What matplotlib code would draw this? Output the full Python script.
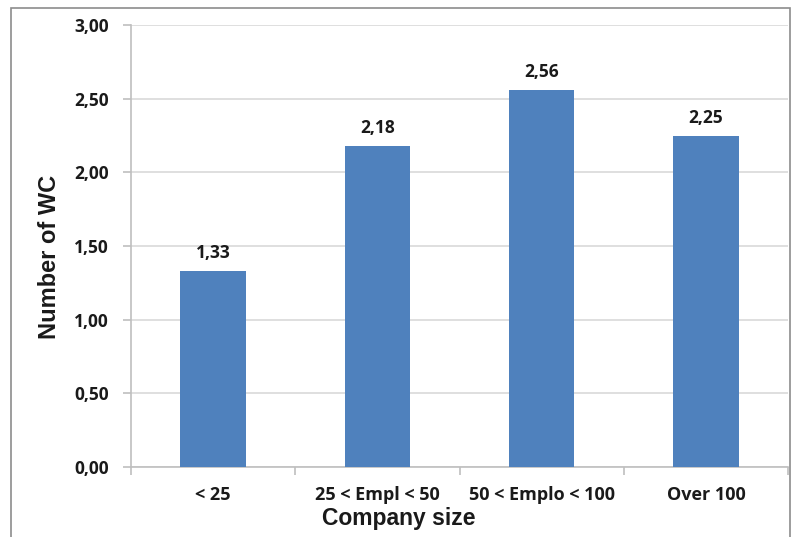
import matplotlib
matplotlib.use("Agg")
import matplotlib.pyplot as plt
from matplotlib.patches import Rectangle

categories = ["< 25", "25 < Empl < 50", "50 < Emplo < 100", "Over 100"]
values = [1.33, 2.18, 2.56, 2.25]
yticks = [0.0, 0.5, 1.0, 1.5, 2.0, 2.5, 3.0]

plt.rcParams['font.family'] = ['Open Sans', 'DejaVu Sans']
label_font = ['Liberation Sans', 'DejaVu Sans']
ink = "#1a1a1a"

W, H = 792, 537
fig = plt.figure(figsize=(W / 100, H / 100), dpi=100)

# outer chart frame
fig.patches.append(Rectangle((11 / W, -0.05), (790 - 11) / W, 1 - 8 / H + 0.05,
                             transform=fig.transFigure, fill=False,
                             edgecolor="#8c8c8c", linewidth=1.2))

left, right, top, bottom = 131, 788, 25, 467
ax = fig.add_axes([left / W, 1 - bottom / H, (right - left) / W, (bottom - top) / H])

x = list(range(len(categories)))
bars = ax.bar(x, values, width=0.4, color="#4f81bd", zorder=3)
for xi, v in zip(x, values):
    ax.text(xi, v + 0.06, f"{v:.2f}".replace(".", ","), ha="center", va="bottom",
            fontsize=12.5, fontweight="bold", color=ink)

ax.set_xlim(-0.5, len(categories) - 0.5)
ax.set_ylim(0, 3.0)
ax.set_yticks(yticks)
ax.set_yticklabels([f"{t:.2f}".replace(".", ",") for t in yticks],
                   fontsize=12.5, fontweight="bold", color=ink)
ax.yaxis.grid(True, color="#d9d9d9", linewidth=1.2, zorder=0)
ax.tick_params(axis="y", length=6, color="#bfbfbf", width=1.2, pad=10)

ax.set_xticks(x)
ax.set_xticklabels(categories, fontsize=13, fontweight="bold", color=ink)
ax.set_xticks([i - 0.5 for i in range(len(categories) + 1)], minor=True)
ax.tick_params(axis="x", which="major", length=0, pad=14)
ax.tick_params(axis="x", which="minor", length=6, color="#bfbfbf", width=1.2)

for s in ["top", "right"]:
    ax.spines[s].set_visible(False)
for s in ["left", "bottom"]:
    ax.spines[s].set_color("#bfbfbf")
    ax.spines[s].set_linewidth(1.2)

# axis titles
fig.text(50 / W, 1 - 257 / H, "Number of WC", rotation=90, ha="center", va="center",
         fontsize=17, fontweight="bold", color=ink, family=label_font)
fig.text(399 / W, 1 - 519 / H, "Company size", ha="center", va="center",
         fontsize=16.5, fontweight="bold", color=ink, family=label_font)

fig.savefig("out.png", dpi=100)
